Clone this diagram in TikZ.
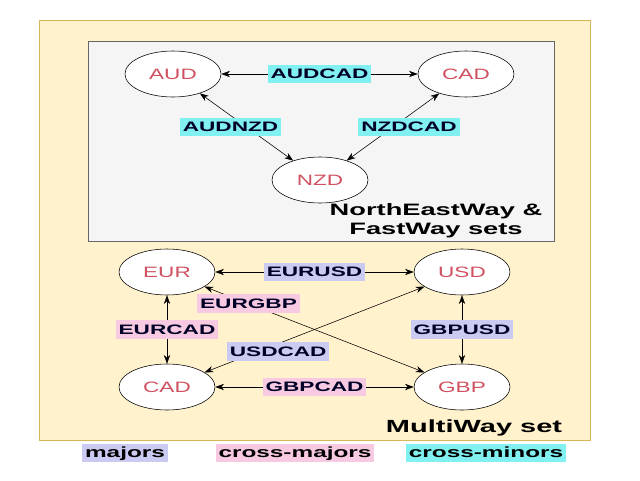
\documentclass[tikz,border=0pt]{standalone}
\usepackage{fontspec}
\setmainfont{Liberation Sans}[FakeStretch=1.65]
\newfontfamily\curfont{Liberation Sans}[FakeStretch=1.5]
\usepackage{xcolor}
\usetikzlibrary{arrows.meta, shapes.geometric}

\definecolor{setbg}{HTML}{FFF2CC}
\definecolor{setline}{HTML}{D6B656}
\definecolor{innerbg}{HTML}{F5F5F5}
\definecolor{curtext}{HTML}{D0505F}
\definecolor{majcol}{HTML}{CACAF2}
\definecolor{crossmajcol}{HTML}{F8CAE2}
\definecolor{crossmincol}{HTML}{80F0F0}

\tikzset{
  cur/.style={draw, ellipse, fill=white, minimum width=2.4cm, minimum height=1.15cm,
    text=curtext, font=\curfont\fontsize{10.7}{13}\selectfont},
  lbl/.style={inner xsep=2pt, inner ysep=1pt, text height=0.9em, text depth=0.25em,
    font=\fontsize{9.75}{12}\selectfont\bfseries, text=black!85!blue},
  maj/.style={lbl, fill=majcol},
  cmaj/.style={lbl, fill=crossmajcol},
  cmin/.style={lbl, fill=crossmincol},
  legend/.style={inner xsep=2pt, inner ysep=0.6pt, text height=0.9em, text depth=0.25em,
    font=\fontsize{10.5}{12}\selectfont\bfseries},
  link/.style={<->, >={Stealth[length=2.2mm, width=1.6mm]}, thin},
  capt/.style={font=\bfseries, align=center}
}

\begin{document}
\begin{tikzpicture}
\useasboundingbox (0,0) rectangle (16,12);

% the two frames
\draw[setline, fill=setbg] (0.975,1.0) rectangle (14.75,11.5);
\draw[black!60, fill=innerbg] (2.2,5.975) rectangle (13.85,10.975);

% NorthEastWay & FastWay
\node[cur] (aud) at (4.325,10.15) {AUD};
\node[cur] (cadn) at (11.65,10.15) {CAD};
\node[cur] (nzd) at (8.0,7.5) {NZD};

\draw[link] (aud) -- node[cmin] (audcad) {AUDCAD} (cadn);
\draw[link] (aud) -- node[cmin, xshift=-0.4cm] (audnzd) {AUDNZD} (nzd);
\draw[link] (nzd) -- node[cmin, xshift=0.4cm] (nzdcad) {NZDCAD} (cadn);

\node[capt, font=\fontsize{11.75}{13.3}\selectfont\bfseries] (netitle) at (10.9,6.475)
  {NorthEastWay \&\\FastWay sets};

% MultiWay
\node[cur] (eur) at (4.175,5.2) {EUR};
\node[cur] (usd) at (11.55,5.2) {USD};
\node[cur] (cadm) at (4.175,2.325) {CAD};
\node[cur] (gbp) at (11.55,2.325) {GBP};

\draw[link] (eur) -- node[maj] (eurusd) {EURUSD} (usd);
\draw[link] (cadm) -- node[cmaj] (gbpcad) {GBPCAD} (gbp);
\draw[link] (eur) -- node[cmaj] (eurcad) {EURCAD} (cadm);
\draw[link] (usd) -- node[maj] (gbpusd) {GBPUSD} (gbp);
\draw[link] (eur) -- node[cmaj, pos=0.2] (eurgbp) {EURGBP} (gbp);
\draw[link] (usd) -- node[maj, pos=0.665, yshift=-0.2cm] (usdcad) {USDCAD} (cadm);

\node[capt, font=\fontsize{12.5}{14}\selectfont\bfseries] (mwtitle) at (11.85,1.3) {MultiWay set};

% legend
\node[legend, fill=majcol] (legmaj) at (3.125,0.675) {majors};
\node[legend, fill=crossmajcol] (legcmaj) at (7.375,0.675) {cross-majors};
\node[legend, fill=crossmincol] (legcmin) at (12.15,0.675) {cross-minors};

\end{tikzpicture}
\end{document}
